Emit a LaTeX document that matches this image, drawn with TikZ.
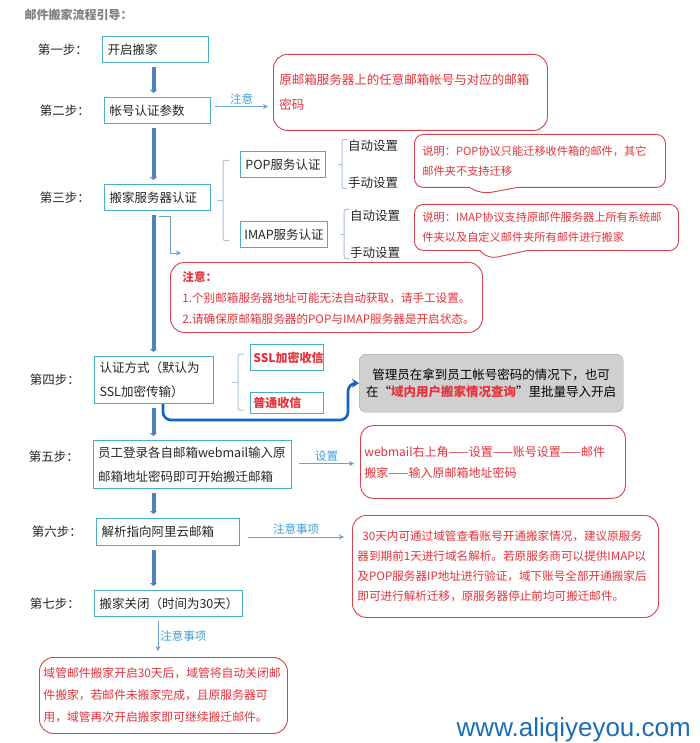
\documentclass[tikz,border=0pt]{standalone}
\usepackage{fontspec}
\setmainfont{Noto Sans CJK SC}
\newfontfamily\sitefont{Liberation Sans}
\usetikzlibrary{arrows.meta,calc,positioning,shapes.callouts}
\definecolor{Ink}{HTML}{262626}
\definecolor{Teal}{HTML}{4BACC6}
\definecolor{Spine}{HTML}{4F81BD}
\definecolor{Thin}{HTML}{6E9FD6}
\definecolor{LabelBlue}{HTML}{3E9FD8}
\definecolor{RedLine}{HTML}{D8424D}
\definecolor{RedText}{HTML}{E5323B}
\definecolor{Brace}{HTML}{A9C0DA}
\definecolor{Deep}{HTML}{1463C2}
\definecolor{GreyFill}{HTML}{D0D0D0}
\definecolor{GreyLine}{HTML}{A0A0A0}
\definecolor{Title}{HTML}{7F7F7F}
\definecolor{Site}{HTML}{1B6DB8}
\tikzset{stepbox/.style={draw=Teal,line width=1pt,fill=white,anchor=north west,align=left,inner xsep=5pt,inner ysep=0pt,text=Ink,font=\fontsize{12.5}{24}\selectfont},subbox/.style={draw=Teal,line width=1pt,fill=white,anchor=north west,align=center,inner xsep=2pt,inner ysep=0pt,minimum height=26pt,text=Ink,font=\fontsize{12.5}{15}\selectfont},pickbox/.style={draw=Teal,line width=.8pt,anchor=north west,align=left,text width=67pt,inner xsep=3pt,inner ysep=0pt,text=RedText,font=\fontsize{12}{14}\selectfont\bfseries},steplabel/.style={inner sep=0pt,text=Ink,font=\fontsize{12.5}{15}\selectfont},choice/.style={inner sep=0pt,anchor=west,text=Ink,font=\fontsize{12.5}{15}\selectfont},redbox/.style={draw=RedLine,line width=.9pt,fill=white,rounded corners=14pt,anchor=north west,align=left,inner xsep=6pt,inner ysep=0pt,text=RedText},bubble/.style={rectangle callout,callout pointer width=48pt,draw=RedLine,line width=.9pt,fill=white,rounded corners=9pt,anchor=north west,align=left,inner xsep=8pt,inner ysep=0pt,text=RedText,font=\fontsize{11.2}{20}\selectfont},greybox/.style={draw=GreyLine,fill=GreyFill,rounded corners=7pt,anchor=north west,align=center,text=black,font=\fontsize{12.5}{17}\selectfont},brace/.style={draw=Brace,line width=1pt,rounded corners=2pt},spinebar/.style={draw=Spine,line width=4pt,shorten <=4pt,shorten >=4pt,-{Triangle[length=3pt,width=7pt]}},hint/.style={draw=Thin,line width=.8pt,-{Stealth[length=5pt,width=5pt]}},hintlabel/.style={text=LabelBlue,font=\fontsize{11.5}{13}\selectfont,inner sep=2pt},bulk/.style={draw=Deep,line width=2.6pt,rounded corners=8pt,-{Stealth[length=7pt,width=9pt]}}}

\begin{document}
\begin{tikzpicture}[x=1pt,y=-1pt]
      \path[use as bounding box,fill=white](0,0)rectangle(700,743);
      \node[anchor=west,text=Title,font=\fontsize{12}{14}\selectfont\bfseries](title) at (21,15){邮件搬家流程引导：};
      % the seven steps
      \node[stepbox,text width=96pt,minimum height=26pt](open) at (102,36){开启搬家};
      \node[stepbox,text width=96pt,minimum height=26pt](account) at (104,97){帐号认证参数};
      \node[stepbox,text width=96pt,minimum height=26pt](server) at (104,184){搬家服务器认证};
      \node[stepbox,text width=109pt,minimum height=47pt](authmode) at (94,356){认证方式（默认为\\SSL加密传输）};
      \node[stepbox,text width=189pt,minimum height=48pt,inner xsep=4.5pt](login) at (93,440){员工登录各自邮箱webmail输入原\\邮箱地址密码即可开始搬迁邮箱};
      \node[stepbox,text width=133pt,minimum height=27pt](dns) at (96,518){解析指向阿里云邮箱};
      \node[stepbox,text width=138pt,minimum height=26pt](close) at (94,590){搬家关闭（时间为30天）};
      \node[steplabel,left=14pt of open](lab1){第一步：};
      \node[steplabel,left=14pt of account](lab2){第二步：};
      \node[steplabel,left=14pt of server](lab3){第三步：};
      \node[steplabel,left=14pt of authmode](lab4){第四步：};
      \node[steplabel,left=14pt of login,yshift=8pt](lab5){第五步：};
      \node[steplabel,left=14pt of dns](lab6){第六步：};
      \node[steplabel,left=14pt of close](lab7){第七步：};
      \coordinate (spine) at (153.5,0);
      \foreach \a/\b in {open/account,account/server,server/authmode,authmode/login,login/dns,dns/close}
        \draw[spinebar](\a.south -| spine)--(\b.north -| spine);
      % step 2
      \node[redbox,text width=262pt,minimum height=76pt,font=\fontsize{12.5}{25}\selectfont](warn) at (273,54){原邮箱服务器上的任意邮箱帐号与对应的邮箱\\密码};
      \draw[hint]($(account.east)+(4,-4)$)--($(account.east -| warn.west)+(-5,-4)$) node[midway,above,hintlabel]{注意};
      % step 3
      \node[subbox,minimum width=85pt](pop) at (240,151){POP服务认证};
      \node[subbox,minimum width=87pt](imap) at (240,221){IMAP服务认证};
      \coordinate (b3) at ($(server.east)+(12,0)$);
      \draw[brace]($(b3 |- pop.center)+(6,-4)$)--($(b3 |- pop.center)+(0,-4)$)--($(b3 |- imap.center)+(0,6)$)--($(b3 |- imap.center)+(6,6)$);
      \draw[brace]($(b3)+(-6,3)$)--($(b3)+(0,3)$);
      \foreach \n in {pop,imap}{
        \coordinate (\n-b) at ($(\n.east)+(16,0)$);
        \node[choice](\n-auto) at ($(\n-b)+(6,-19)$){自动设置};
        \node[choice](\n-hand) at ($(\n-b)+(6,18)$){手动设置};
        \draw[brace]($(\n-b)+(5,-25)$)--($(\n-b)+(0,-25)$)--($(\n-b)+(0,24)$)--($(\n-b)+(5,24)$);
        \draw[brace]($(\n-b)+(-4,0)$)--(\n-b);
      }
      \node[bubble,text width=235pt,minimum height=53pt,callout absolute pointer={(482,194)}](popnote) at (414,134){说明：POP协议只能迁移收件箱的邮件，其它\\邮件夹不支持迁移};
      \node[bubble,text width=248pt,minimum height=46pt,callout absolute pointer={(488,259)}](imapnote) at (414,204){说明：IMAP协议支持原邮件服务器上所有系统邮\\件夹以及自定义邮件夹所有邮件进行搬家};
      \node[redbox,text width=288pt,inner xsep=12pt,minimum height=70pt,font=\fontsize{11.6}{21}\selectfont](caution) at (170,262){\textbf{注意：}\\1.个别邮箱服务器地址可能无法自动获取，请手工设置。\\2.请确保原邮箱服务器的POP与IMAP服务器是开启状态。};
      \coordinate (hook) at ($(server.south)+(1,5)$);
      \coordinate (cautionin) at ($(caution.north west)+(11,-9)$);
      \draw[hint](hook)-|(caution.north west |- cautionin)--(cautionin);
      % step 4
      \node[pickbox,minimum height=26pt](ssl) at (250,344){SSL加密收信};
      \node[pickbox,minimum height=21pt](plain) at (250,392){普通收信};
      \coordinate (b6) at ($(authmode.east)+(24,2)$);
      \draw[brace]($(b6)+(6,-28)$)--($(b6)+(0,-28)$)--($(b6)+(0,28)$)--($(b6)+(6,28)$);
      \draw[brace]($(b6)+(-6,0)$)--(b6);
      \node[greybox,minimum width=264pt,minimum height=58pt](admin) at (359,354){管理员在拿到员工帐号密码的情况下，也可\\在“\textcolor{RedText}{\textbf{域内用户搬家情况查询}}”里批量导入开启};
      \coordinate (jump) at (163,0);
      \coordinate (turn) at (348,420);
      \draw[bulk](authmode.south -| jump)|-(turn)|-(admin.west);
      % step 5
      \node[redbox,text width=257pt,inner xsep=4pt,minimum height=73pt,rounded corners=13pt,font=\fontsize{12}{21}\selectfont](webset) at (360,425){webmail右上角——设置——账号设置——邮件\\搬家——输入原邮箱地址密码};
      \draw[hint]($(login.east)+(7,-1)$)--($(login.east -| webset.west)+(-6,-1)$) node[midway,above,hintlabel]{设置};
      % step 6
      \node[redbox,text width=296pt,inner xsep=5pt,minimum height=102pt,font=\fontsize{11.6}{20}\selectfont](dnsnote) at (352,515){\hspace{5pt}30天内可通过域管查看账号开通搬家情况，建议原服务\\器到期前1天进行域名解析。若原服务商可以提供IMAP以\\及POP服务器IP地址进行验证，域下账号全部开通搬家后\\即可进行解析迁移，原服务器停止前均可搬迁邮件。};
      \draw[hint]($(dns.east)+(8,5)$)--($(dns.east -| dnsnote.west)+(-8,5)$) node[midway,above,hintlabel]{注意事项};
      % step 7
      \node[redbox,text width=240pt,inner xsep=4pt,minimum height=76pt,font=\fontsize{11.8}{22}\selectfont](lastnote) at (39,657){域管邮件搬家开启30天后，域管将自动关闭邮\\件搬家，若邮件未搬家完成，且原服务器可\\用，域管再次开启搬家即可继续搬迁邮件。};
      \coordinate (drop) at (158,0);
      \draw[hint]($(close.south -| drop)+(0,4)$)--($(lastnote.north -| drop)+(0,-6)$) node[midway,right,hintlabel]{注意事项};
      \node[anchor=east,inner sep=0pt,text=Site,font=\sitefont\fontsize{26}{30}\selectfont](site) at (691,730){www.aliqiyeyou.com};
    \end{tikzpicture}
\end{document}
